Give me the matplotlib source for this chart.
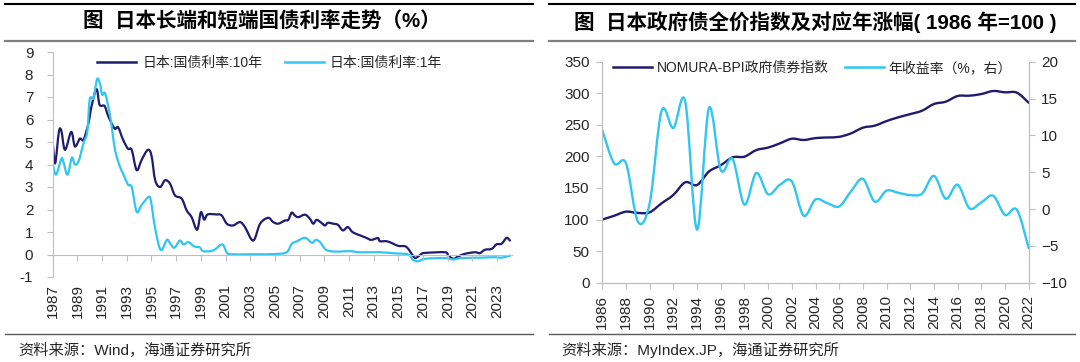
import matplotlib
matplotlib.use("Agg")
import matplotlib.pyplot as plt
import numpy as np
from matplotlib.path import Path
from matplotlib.patches import PathPatch
from matplotlib.lines import Line2D

plt.rcParams['font.family'] = ['Liberation Sans', 'Noto Sans CJK SC', 'DejaVu Sans']

# ---------------- data: left chart (JGB yields, %) ----------------
jgb10_t = [1987.0, 1987.2, 1987.5, 1987.7, 1988.0, 1988.5, 1988.8, 1989.2, 1989.5, 1989.9,
           1990.15, 1990.55, 1990.8, 1991.2, 1991.5, 1992.0, 1992.3, 1992.7, 1993.1, 1993.4,
           1993.8, 1994.2, 1994.7, 1995.0, 1995.3, 1995.7, 1996.1, 1996.5, 1996.9, 1997.45,
           1997.85, 1998.25, 1998.7, 1999.0, 1999.27, 1999.55, 2000.25, 2000.68, 2001.1, 2001.6,
           2002.17, 2002.57, 2003.24, 2003.8, 2004.45, 2004.86, 2005.27, 2005.8, 2006.08, 2006.35,
           2006.6, 2006.9, 2007.43, 2007.83, 2008.1, 2008.38, 2008.78, 2009.05, 2009.3, 2009.7,
           2010.1, 2010.5, 2010.9, 2011.3, 2011.9, 2012.4, 2012.8, 2013.35, 2013.5, 2014.05,
           2014.58, 2015.0, 2015.52, 2015.8, 2016.07, 2016.34, 2016.6, 2016.88, 2017.15, 2018.77,
           2019.03, 2019.44, 2019.84, 2020.38, 2021.2, 2021.6, 2022.0, 2022.55, 2022.95, 2023.36,
           2023.76, 2024.03]
jgb10_v = [5.0, 4.05, 5.45, 5.5, 4.65, 5.45, 4.8, 5.15, 5.1, 5.85,
           6.6, 7.35, 6.65, 6.6, 6.15, 5.6, 5.65, 5.1, 4.7, 4.65,
           3.75, 4.2, 4.65, 4.4, 3.3, 3.0, 3.3, 3.15, 2.63, 2.48,
           1.96, 1.66, 1.1, 1.88, 1.55, 1.78, 1.78, 1.74, 1.37, 1.29,
           1.44, 1.22, 0.62, 1.37, 1.63, 1.44, 1.37, 1.51, 1.54, 1.86,
           1.74, 1.66, 1.77, 1.59, 1.37, 1.54, 1.4, 1.29, 1.41, 1.37,
           1.32, 1.07, 1.22, 0.99, 0.85, 0.74, 0.65, 0.73, 0.59, 0.59,
           0.48, 0.38, 0.37, 0.25, 0.03, -0.15, -0.09, 0.03, 0.07, 0.1,
           -0.04, -0.19, -0.09, 0.03, 0.1, 0.06, 0.21, 0.25, 0.45, 0.48,
           0.74, 0.62]

jgb1_t = [1987.0, 1987.27, 1987.7, 1987.85, 1988.2, 1988.55, 1988.8, 1989.1, 1989.5, 1989.8,
          1990.0, 1990.3, 1990.6, 1990.85, 1991.0, 1991.25, 1991.65, 1992.05, 1992.45, 1992.7,
          1993.1, 1993.4, 1993.8, 1994.2, 1994.75, 1994.95, 1995.3, 1995.75, 1996.25, 1996.5,
          1996.85, 1997.3, 1997.6, 1998.0, 1998.45, 1998.9, 1999.2, 2000.0, 2000.73, 2001.1,
          2001.5, 2003.0, 2005.0, 2005.95, 2006.35, 2006.75, 2007.43, 2008.0, 2008.3, 2008.65,
          2009.05, 2009.45, 2010.25, 2011.07, 2011.9, 2013.5, 2014.72, 2015.8, 2016.2, 2016.6,
          2017.15, 2018.77, 2019.44, 2020.1, 2021.75, 2022.8, 2023.36, 2024.03]
jgb1_v = [4.05, 3.55, 4.25, 4.15, 3.55, 4.3, 4.0, 4.15, 4.95, 5.45,
          6.9, 6.95, 7.8, 7.55, 7.1, 7.15, 6.15, 4.65, 3.9, 3.6,
          3.1, 3.0, 1.9, 2.2, 2.55, 2.4, 1.15, 0.2, 0.65, 0.5,
          0.3, 0.62, 0.45, 0.55, 0.36, 0.32, 0.15, 0.18, 0.45, 0.08,
          0.01, 0.01, 0.02, 0.1, 0.47, 0.58, 0.74, 0.52, 0.65, 0.55,
          0.25, 0.15, 0.13, 0.15, 0.1, 0.1, 0.05, 0.0, -0.24, -0.3,
          -0.19, -0.16, -0.22, -0.16, -0.14, -0.12, -0.14, -0.05]

left_xticks = list(range(1987, 2024, 2))
left_yticks = list(range(-1, 10))

# ---------------- data: right chart ----------------
years = list(range(1986, 2023))
bpi_index = [100, 106, 112.5, 110.5, 111.5, 125.7, 139, 159, 154.7, 176,
             186, 198.5, 199.6, 210, 214, 220.7, 228, 226, 229, 230,
             231, 236.5, 245.5, 248.7, 256, 262, 267, 272.4, 283, 286.7,
             295.7, 296.2, 298.8, 303.6, 301.5, 301, 285]
bpi_return = [10.7, 6.2, 6.2, -1.7, 0.8, 13.3, 11.0, 14.6, -2.8, 13.7,
              5.3, 6.8, 0.6, 4.9, 2.0, 3.3, 3.75, -0.9, 1.3, 0.8,
              0.36, 2.4, 4.1, 1.0, 2.5, 2.2, 1.9, 2.1, 4.5, 1.4,
              3.3, 0.1, 0.9, 1.8, -0.8, -0.1, -5.3]
right_xticks = list(range(1986, 2023, 2))

NAVY = '#1f1c6e'
CYAN = '#30c6f2'
GRID = '#bfbfbf'
TXT = '#262626'
CJK = ['Liberation Sans', 'Noto Sans CJK SC', 'DejaVu Sans']


def smooth_path(x, y):
    """Excel-style smoothed line: cubic Bezier through every data point."""
    P = np.column_stack([x, y]).astype(float)
    n = len(P)
    verts = [P[0]]
    codes = [Path.MOVETO]
    for i in range(n - 1):
        p0 = P[i - 1] if i > 0 else P[i]
        p1 = P[i]
        p2 = P[i + 1]
        p3 = P[i + 2] if i + 2 < n else P[i + 1]
        c1 = p1 + (p2 - p0) / 6.0
        c2 = p2 - (p3 - p1) / 6.0
        verts += [c1, c2, p2]
        codes += [Path.CURVE4] * 3
    return Path(np.array(verts), codes)


def add_smooth(ax, x, y, color, lw):
    patch = PathPatch(smooth_path(x, y), facecolor='none', edgecolor=color,
                      lw=lw, capstyle='round', joinstyle='round')
    ax.add_patch(patch)


fig = plt.figure(figsize=(10.8, 3.62), dpi=100)
W, H = 1080.0, 362.0


def fx(px):
    return px / W


def fy(py):
    return 1 - py / H


# ---------------- left chart ----------------
axl = fig.add_axes([fx(52.7), fy(277), (512 - 52.7) / W, (277 - 52) / H])
add_smooth(axl, jgb10_t, jgb10_v, NAVY, 1.6)
add_smooth(axl, jgb1_t, jgb1_v, CYAN, 1.6)
axl.set_xlim(1987, 2024.2)
axl.set_ylim(-1, 9)
axl.set_yticks(left_yticks)
axl.set_yticklabels([str(v) for v in left_yticks])
axl.set_xticks(left_xticks)
for s in ['top', 'right']:
    axl.spines[s].set_visible(False)
axl.spines['left'].set_color(GRID)
axl.spines['bottom'].set_color(GRID)
axl.spines['bottom'].set_position(('data', 0))
axl.tick_params(axis='y', direction='out', length=4, color=GRID, pad=10,
                labelsize=11, labelcolor=TXT)
axl.tick_params(axis='x', direction='out', length=4, color=GRID, labelbottom=False)
secl = axl.secondary_xaxis('bottom')
secl.set_xticks(left_xticks)
secl.set_xticklabels([str(v) for v in left_xticks], rotation=90)
secl.spines['bottom'].set_visible(False)
secl.tick_params(length=0, pad=5, labelsize=11, labelcolor=TXT)
for t in secl.get_xticklabels():
    t.set_fontfamily('Liberation Sans')

hl = [Line2D([], [], color=NAVY, lw=1.8), Line2D([], [], color=CYAN, lw=1.8)]
axl.legend(hl, ['日本:国债利率:10年', '日本:国债利率:1年'], ncol=2, frameon=False,
           loc='upper left', bbox_to_anchor=(0.07, 1.04), handlelength=2.8,
           handletextpad=0.45, columnspacing=1.6, prop={'family': CJK, 'size': 10},
           labelcolor=TXT)

# ---------------- right chart ----------------
axr = fig.add_axes([fx(602.3), fy(282.7), (1028.7 - 602.3) / W, (282.7 - 61.7) / H])
axr2 = axr.twinx()
add_smooth(axr, years, bpi_index, NAVY, 1.7)
add_smooth(axr2, years, bpi_return, CYAN, 1.7)
axr.set_xlim(1986, 2022)
axr.set_ylim(0, 350)
axr.set_yticks(range(0, 351, 50))
axr2.set_ylim(-10, 20)
axr2.set_yticks(range(-10, 21, 5))
axr.set_xticks(right_xticks)
axr.set_xticklabels([str(v) for v in right_xticks], rotation=90)
for a in (axr, axr2):
    a.spines['top'].set_visible(False)
    for s in ['left', 'right', 'bottom']:
        a.spines[s].set_color(GRID)
axr.tick_params(axis='both', direction='out', length=4, color=GRID, labelsize=11,
                labelcolor=TXT)
axr.tick_params(axis='y', pad=5)
axr.tick_params(axis='x', pad=5)
axr2.tick_params(axis='y', direction='out', length=4, color=GRID, labelsize=11,
                 labelcolor=TXT, pad=5)

hr = [Line2D([], [], color=NAVY, lw=1.8), Line2D([], [], color=CYAN, lw=1.8)]
axr.legend(hr, ['NOMURA-BPI政府债券指数', '年收益率（%，右）'], ncol=2, frameon=False,
           loc='upper left', bbox_to_anchor=(-0.005, 1.06), handlelength=2.8,
           handletextpad=0.35, columnspacing=1.2, prop={'family': CJK, 'size': 10},
           labelcolor=TXT)

# ---------------- titles, rules, sources ----------------
for (x0, x1) in [(5, 533), (549, 1075)]:
    fig.add_artist(Line2D([fx(x0), fx(x1)], [fy(3.5), fy(3.5)], color='black', lw=1.5,
                          transform=fig.transFigure))
    fig.add_artist(Line2D([fx(x0), fx(x1)], [fy(40.5), fy(40.5)], color='#7f7f7f', lw=1.6,
                          transform=fig.transFigure))
    fig.add_artist(Line2D([fx(x0), fx(x1)], [fy(334), fy(334)], color='#595959', lw=1.0,
                          transform=fig.transFigure))

fig.text(fx(262), fy(22), '图  日本长端和短端国债利率走势（%）', ha='center', va='center',
         fontsize=14.8, fontweight='bold', family=CJK, color='black')
fig.text(fx(815), fy(22), '图  日本政府债全价指数及对应年涨幅( 1986 年=100 )', ha='center',
         va='center', fontsize=14.8, fontweight='bold', family=CJK, color='black')
fig.text(fx(18), fy(350), '资料来源：Wind，海通证券研究所', ha='left', va='center',
         fontsize=11, family=CJK, color=TXT)
fig.text(fx(561), fy(350), '资料来源：MyIndex.JP，海通证券研究所', ha='left', va='center',
         fontsize=11, family=CJK, color=TXT)

fig.savefig('out.png', dpi=100)
